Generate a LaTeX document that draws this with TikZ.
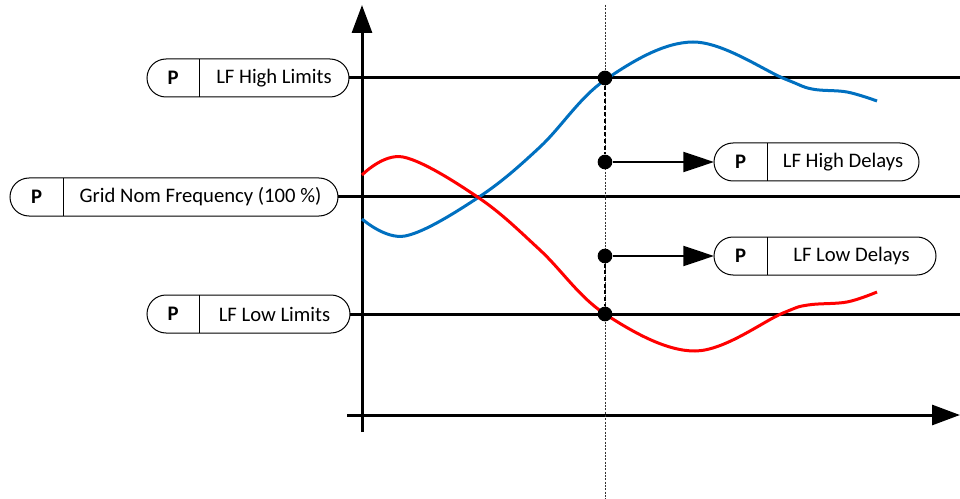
\documentclass[tikz,border=0pt]{standalone}
\usepackage{fontspec}
\setmainfont{Carlito}
\usetikzlibrary{arrows.meta, positioning, calc}

\definecolor{freqblue}{RGB}{0,112,192}

% parameter box: name, left, divider, right, y, label
\newcommand{\parambox}[6]{%
	\node[pframe, minimum width={(#4-#2)*0.75pt}, anchor=west] (#1) at (#2,#5) {};
	\draw[line width=0.6pt] (#3,#5-19) -- (#3,#5+19);
	\node[ptag] at ({(#2+#3)/2},#5) {P};
	\node[plabel] at ({(#3+#4)/2},#5) {#6};
}

\begin{document}
\begin{tikzpicture}[
		x=0.75pt, y=-0.75pt,
		axis/.style={line width=2.25pt, -{Triangle[length=21pt, width=15pt]}},
		level/.style={line width=2.25pt},
		pframe/.style={draw, line width=0.75pt, rounded corners=14.25pt,
			minimum height=28.5pt, inner sep=0pt, outer sep=0pt},
		ptag/.style={font=\fontsize{15.5}{18}\selectfont\bfseries},
		plabel/.style={font=\fontsize{15.5}{18}\selectfont},
		dot/.style={circle, fill=black, minimum size=11pt, inner sep=0pt},
		guide/.style={line width=0.5pt, black!80, dash pattern=on 1.5pt off 1pt},
		hold/.style={line width=2pt, dash pattern=on 3pt off 2pt},
		trig/.style={line width=1.5pt, -{Triangle[length=23pt, width=15pt]}},
		fup/.style={line width=2.25pt, freqblue},
		fdown/.style={line width=2.25pt, red},
	]
		\useasboundingbox (0,0) rectangle (960,499);

		% parameter boxes
		\parambox{hlim}{147}{199}{349}{78}{LF High Limits}
		\parambox{nom}{10}{63}{338}{197}{Grid Nom Frequency (100 \%)}
		\parambox{llim}{147}{199}{350}{314}{LF Low Limits}
		\parambox{hdel}{714}{767}{919}{162}{LF High Delays}
		\parambox{ldel}{714}{767}{936}{256}{LF Low Delays}

		% levels
		\coordinate (hend) at (960,78);
		\coordinate (nend) at (960,197);
		\coordinate (lend) at (960,314);
		\draw[level] (hlim.east) -- (hend);
		\draw[level] (nom.east) -- (nend);
		\draw[level] (llim.east) -- (lend);

		% axes
		\coordinate (ybot) at (362,432);
		\coordinate (ytop) at (362,5);
		\coordinate (xleft) at (347,415);
		\coordinate (xright) at (960,415);
		\draw[axis] (ybot) -- (ytop);
		\draw[axis] (xleft) -- (xright);

		% frequency curves
		\draw[fup] plot[smooth, tension=0.6] coordinates {(362,219) (405,236)
			(479,197) (540,147) (605,80) (693,42) (785,79) (812,89) (847,92) (877,101)};
		\draw[fdown] plot[smooth, tension=0.6] coordinates {(362,175) (403,157)
			(479,198) (540,250) (605,314) (695,351) (783,313) (808,305) (847,302) (877,292)};

		% time marker
		\coordinate (gtop) at (605,5);
		\coordinate (gbot) at (605,499);
		\draw[guide] (gtop) -- (gbot);

		\node[dot] (hcross) at (605,78) {};
		\node[dot] (hstart) at (605,162) {};
		\node[dot] (lstart) at (605,256) {};
		\node[dot] (lcross) at (605,314) {};

		\draw[hold] (hcross) -- (hstart);
		\draw[hold] (lstart) -- (lcross);
		\draw[trig] (hstart) -- (hdel.west);
		\draw[trig] (lstart) -- (ldel.west);
	\end{tikzpicture}
\end{document}
